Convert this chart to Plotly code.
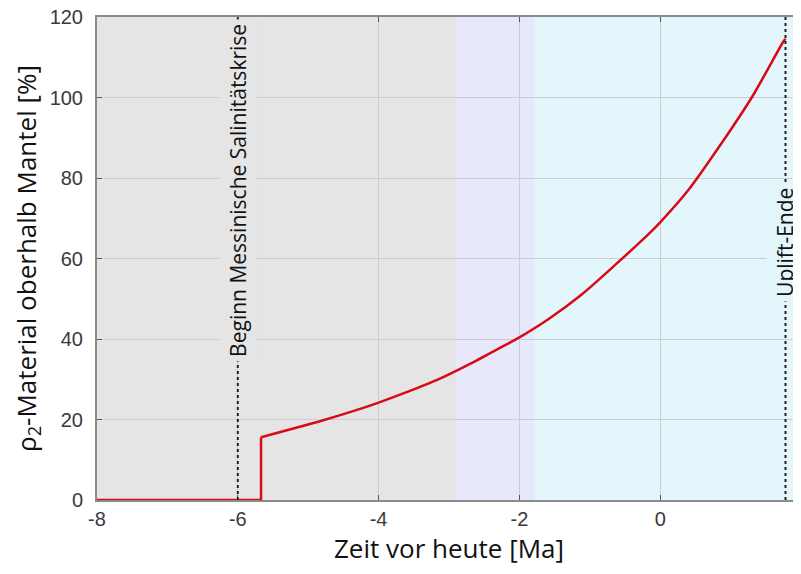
import plotly.graph_objects as go

# Data
step_x = [-8.0, -5.67, -5.67]
step_y = [0.0, 0.0, 15.6]

curve_x = [-5.67, -5.29, -4.81, -4.34, -4.0, -3.63, -3.16, -2.68, -2.21, -2.0, -1.59, -1.12, -0.64, -0.17, 0.0, 0.40, 0.87, 1.30, 1.75, 1.78]
curve_y = [15.6, 17.4, 19.7, 22.2, 24.2, 26.6, 29.9, 34.0, 38.4, 40.4, 44.9, 51.0, 58.4, 66.0, 69.0, 77.0, 88.6, 100.0, 113.9, 114.6]

region_starts = [-8, -2.89, -1.78]
region_ends = [-2.89, -1.78, 2.05]
region_colors = ["#e5e5e5", "#e7e8fb", "#e2f6fc"]

event_x = [-6.0, 1.78]
event_labels = ["Beginn Messinische Salinitätskrise", "Uplift-Ende"]
event_label_y = [77, 64]
event_label_bg = ["#e5e5e5", "#e2f6fc"]

x_ticks = [-8, -6, -4, -2, 0, 2]
x_tick_text = ["-8", "-6", "-4", "-2", "0", "2"]
y_ticks = [0, 20, 40, 60, 80, 100, 120]

fig = go.Figure()

for x0, x1, c in zip(region_starts, region_ends, region_colors):
    fig.add_vrect(x0=x0, x1=x1, fillcolor=c, line_width=0, layer="below")

for ex in event_x:
    fig.add_shape(type="line", x0=ex, x1=ex, y0=0, y1=120, xref="x", yref="y",
                  line=dict(color="#222222", width=2, dash="dot"), layer="above")

red = "#d90a16"
fig.add_trace(go.Scatter(x=step_x, y=step_y, mode="lines",
                         line=dict(color=red, width=2.5), showlegend=False))
fig.add_trace(go.Scatter(x=curve_x, y=curve_y, mode="lines",
                         line=dict(color=red, width=2.5, shape="spline", smoothing=0.8),
                         showlegend=False))

for ex, lab, ly, bg in zip(event_x, event_labels, event_label_y, event_label_bg):
    fig.add_annotation(x=ex, y=ly, xref="x", yref="y", text=lab, textangle=-90,
                       showarrow=False, xanchor="center", yanchor="middle",
                       font=dict(family="Open Sans", size=21, color="#111111"),
                       bgcolor=bg, borderpad=4)

axis_common = dict(showline=True, linecolor="#8a8a8a", linewidth=2, mirror="ticks",
                   ticks="inside", ticklen=5, tickcolor="#555555",
                   showgrid=True, gridcolor="#cdcdcd", gridwidth=1, zeroline=False,
                   automargin=False, ticklabeloverflow="allow",
                   tickfont=dict(family="Liberation Sans", size=20, color="#3a3a3a"))

fig.update_xaxes(range=[-8, 2.0], tickvals=x_ticks, ticktext=x_tick_text, **axis_common,
                 title=dict(text="Zeit vor heute [Ma]",
                            font=dict(family="Open Sans", size=26, color="#111111"),
                            standoff=10))
fig.update_yaxes(range=[0, 120], tickvals=y_ticks, ticklabelstandoff=8, **axis_common,
                 title=dict(text="ρ<sub>2</sub>-Material oberhalb Mantel [%]",
                            font=dict(family="Open Sans", size=26, color="#111111"),
                            standoff=10))

# page body has an 8px margin, so the figure is sized/offset to compensate
fig.update_layout(width=793, height=566, margin=dict(l=89, r=0, t=9, b=74),
                  paper_bgcolor="white", plot_bgcolor="white")

fig.write_html("out.html")
